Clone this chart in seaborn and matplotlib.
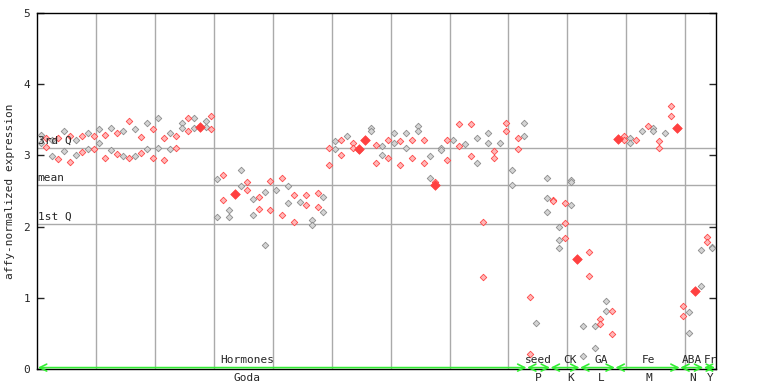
## affy-normalized expression across hormone / nutrient experiments

#----------------------------------------------------
# IMPORT
#----------------------------------------------------

from pandas import DataFrame
import matplotlib
matplotlib.use("Agg")
import matplotlib.pyplot as plt
import seaborn as sns

#----------------------------------------------------
# DATA (one inner list per sample column)
#----------------------------------------------------

hormones_vals = [
    [3.29, 3.17], [3.25, 3.12], [3.22, 2.99], [3.24, 2.95], [3.35, 3.06],
    [3.27, 2.91], [3.21, 3.00], [3.28, 3.05], [3.31, 3.09], [3.28, 3.09],
    [3.37, 3.17], [3.29, 2.97], [3.38, 3.07], [3.31, 3.02], [3.34, 2.99],
    [3.49, 2.97], [3.37, 2.99], [3.26, 3.04], [3.45, 3.09], [3.37, 2.96],
    [3.52, 3.11], [3.25, 2.93], [3.31, 3.09], [3.28, 3.11], [3.45, 3.38],
    [3.53, 3.35], [3.52, 3.39], [], [3.49, 3.40], [3.55, 3.37],
    [2.67, 2.14], [2.72, 2.38], [2.23, 2.14], [], [2.80, 2.57],
    [2.63, 2.52], [2.39, 2.16], [2.41, 2.25], [2.49, 1.74], [2.64, 2.24],
    [2.51], [2.69, 2.17], [2.57, 2.33], [2.45, 2.06], [2.34],
    [2.45, 2.30], [2.10, 2.03], [2.47, 2.27], [2.41, 2.21], [3.11, 2.86],
    [3.20, 3.09], [3.22, 3.01], [3.27], [3.18, 3.11], [3.07],
    [], [3.39, 3.34], [3.14, 2.90], [3.13, 3.01], [3.22, 2.96],
    [3.31, 3.18], [3.20, 2.87], [3.32, 3.10], [3.22, 2.96], [3.41, 3.35],
    [3.21, 2.90], [2.99, 2.68], [2.62], [3.10, 3.07], [3.22, 2.93],
    [3.21], [3.44, 3.13], [3.16], [3.44, 2.99], [3.25, 2.90],
    [2.06, 1.29], [3.31, 3.18], [3.06, 2.97], [3.18], [3.45, 3.35],
    [2.79, 2.59], [3.25, 3.09], [3.45, 3.27],
]
seed_vals = [[1.01, 0.21], [0.64], [], [2.69, 2.40, 2.20]]
ck_vals = [[2.38, 2.36], [1.99, 1.81, 1.70], [2.33, 2.05, 1.84], [2.65, 2.62, 2.30], []]
ga_vals = [[0.61, 0.18], [1.65, 1.30], [0.61, 0.29], [0.70, 0.63], [0.95, 0.82], [0.82, 0.49]]
fe_vals = [[], [3.27, 3.21], [3.24, 3.17], [3.22], [3.34], [3.41],
           [3.39, 3.35], [3.20, 3.11], [3.32], [3.69, 3.56], []]
aba_vals = [[0.89, 0.74], [0.80, 0.50], [], [1.17, 1.67]]
fr_vals = [[1.85, 1.79], [1.72, 1.70]]

#highlighted (filled) samples
hl_sample = [27, 33, 54, 55, 67, 91, 98, 108, 111]
hl_expr = [3.40, 2.46, 3.09, 3.21, 2.58, 1.54, 3.23, 3.39, 1.09]

#summary lines
q3_val = 3.10
mean_val = 2.58
q1_val = 2.04

sec_top = ["Hormones", "seed", "CK", "GA", "Fe", "ABA", "Fr"]
sec_bottom = ["Goda", "P", "K", "L", "M", "N", "Y"]

#----------------------------------------------------
# BUILD DATAFRAME
#----------------------------------------------------

def build_frame():
    rows = []
    spans = []
    k = 0
    for sec in [hormones_vals, seed_vals, ck_vals, ga_vals, fe_vals, aba_vals, fr_vals]:
        start = k
        for col in sec:
            for v in col:
                rows.append((k, v, "gray" if k % 2 == 0 else "red"))
            k += 1
        spans.append((start, k - 1))
    return DataFrame(rows, columns=["sample", "expr", "tone"]), spans

#----------------------------------------------------
# PLOT
#----------------------------------------------------

def show(df, spans):
    sns.set_style("white")
    plt.rcParams["font.family"] = ["DejaVu Sans Mono"]
    fs = 8

    fig = plt.figure(figsize=(7.68, 3.84), dpi=100)
    ax = fig.add_axes([0.0482, 0.039, 0.884, 0.927])

    x_lo, x_hi = -0.6, 114.6
    #vertical grid
    for j in range(11):
        ax.axvline(9.4 + 10 * j, color="#aaaaaa", lw=1.0, zorder=0)
    #quantile lines
    for val, lab in [(q3_val, "3rd Q"), (mean_val, "mean"), (q1_val, "1st Q")]:
        ax.axhline(val, color="#aaaaaa", lw=1.0, zorder=0)
        ax.text(x_lo + 0.1, val + 0.03, lab, fontsize=fs, ha="left", va="bottom", zorder=10)

    grey = df[df.tone == "gray"]
    red = df[df.tone == "red"]
    sns.scatterplot(data=grey, x="sample", y="expr", marker="D", s=11,
                    color="#d4d4d4", edgecolor="#8c8c8c", linewidth=0.6, ax=ax, zorder=3)
    sns.scatterplot(data=red, x="sample", y="expr", marker="D", s=11,
                    color="#ffb8b8", edgecolor="#ff4545", linewidth=0.6, ax=ax, zorder=3)
    sns.scatterplot(x=hl_sample, y=hl_expr, marker="D", s=24,
                    color="#ff4040", edgecolor="#ff4040", linewidth=0.5, ax=ax, zorder=4)

    ax.set_xlim(x_lo, x_hi)
    ax.set_ylim(0, 5)
    ax.set_xticks([])
    ax.set_yticks(range(6))
    ax.tick_params(axis="y", direction="in", length=5, width=1, labelsize=fs,
                   right=True, left=True, pad=5)
    for sp in ax.spines.values():
        sp.set_color("black")
        sp.set_linewidth(1.0)
    ax.set_xlabel("")
    ax.set_ylabel("affy-normalized expression", fontsize=fs, labelpad=6)

    #section arrows and labels
    label_x = [35, 84.4, 89.9, 95.1, 103.2, 110.6, 113.6]
    for (s, e), top, bot, lx in zip(spans, sec_top, sec_bottom, label_x):
        a = max(s - 0.45, x_lo)
        b = e + 0.45
        ax.annotate("", xy=(a, 0.02), xytext=(b, 0.02), annotation_clip=False,
                    arrowprops=dict(arrowstyle="<->,head_length=0.5,head_width=0.25",
                                    color="#33ee33", lw=1.2,
                                    shrinkA=0, shrinkB=0), zorder=5)
        ax.text(lx, 0.06, top, fontsize=fs, ha="center", va="bottom", zorder=10)
        ax.text(lx, -0.05, bot, fontsize=fs, ha="center", va="top", clip_on=False)

    fig.savefig("out.png", dpi=100)

#----------------------------------------------------
# MAIN
#----------------------------------------------------

def main():
    df, spans = build_frame()
    show(df, spans)

if __name__ == '__main__':
    main()
